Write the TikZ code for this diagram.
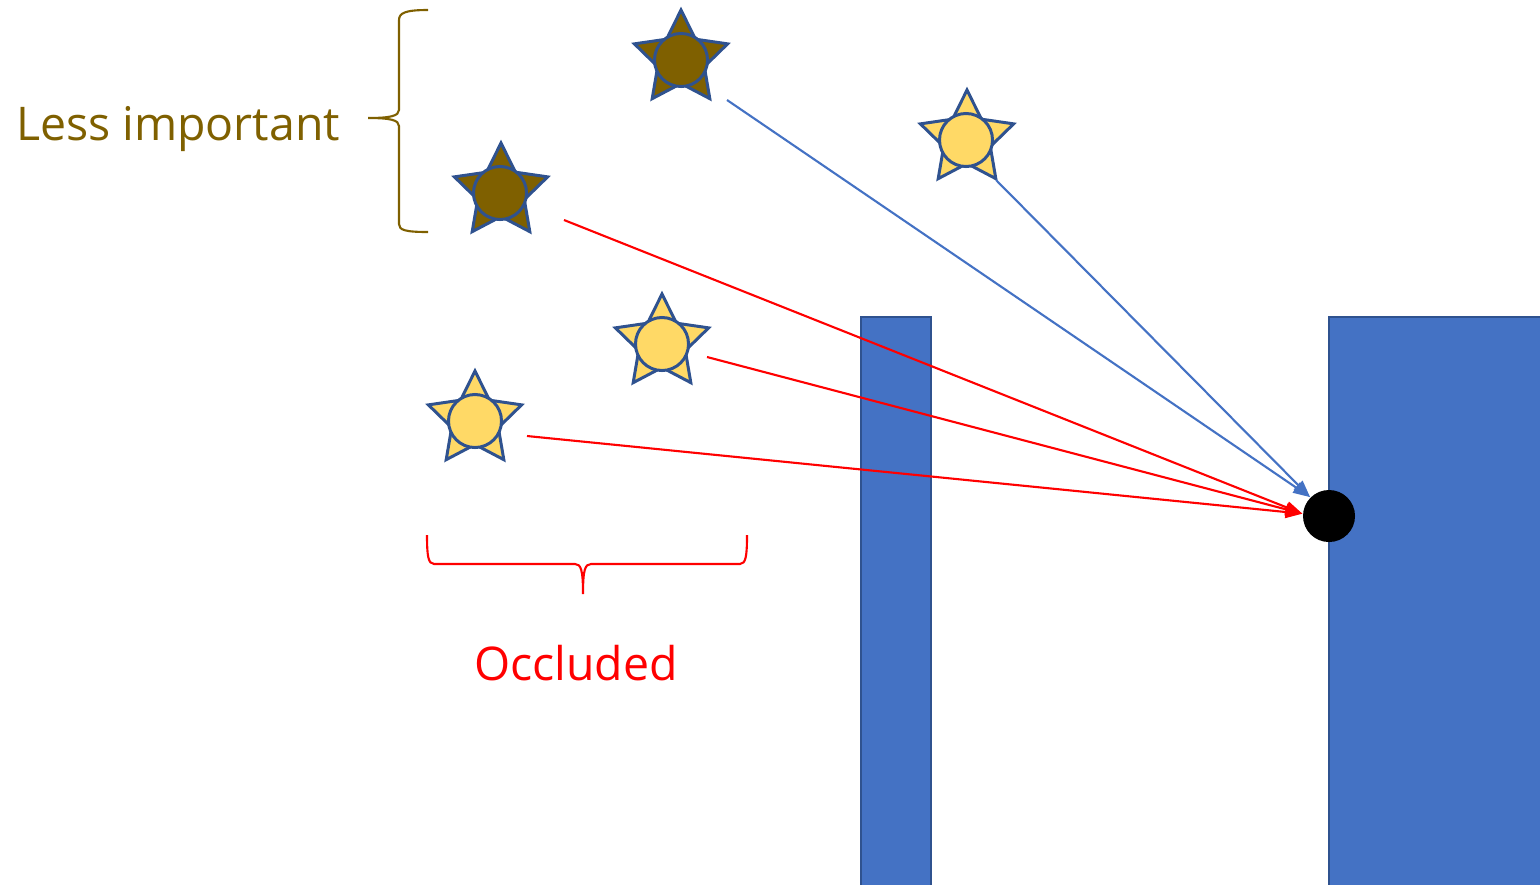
\documentclass[tikz,border=0pt]{standalone}
\usepackage{fontspec}
\setmainfont{Open Sans}
\usepackage{tikz}
\usetikzlibrary{shapes.geometric,arrows.meta}

\definecolor{darkgold}{HTML}{7F6000}
\definecolor{lightgold}{HTML}{FFD966}
\definecolor{edgeblue}{HTML}{2F528F}
\definecolor{wallblue}{HTML}{4472C4}

\begin{document}
\begin{tikzpicture}[
    x=0.01cm, y=-0.01cm,
    lamp/.style={star, star points=5, star point ratio=2.0, draw=edgeblue, line width=0.85pt, minimum size=0.98cm, inner sep=0pt},
    bulb/.style={circle, draw=edgeblue, line width=0.85pt, minimum size=0.53cm, inner sep=0pt},
    wall/.style={draw=edgeblue, fill=wallblue, line width=0.6pt},
    ray/.style={-{Triangle[length=0.17cm,width=0.12cm]}, line width=0.6pt},
    label/.style={anchor=base, font=\fontsize{13.2}{16}\selectfont}
]
\useasboundingbox (0,0) rectangle (1540,884);

% Walls
\draw[wall] (861,317) rectangle (931,890);
\draw[wall] (1329,317) rectangle (1545,890);

% Viewer
\node[circle, fill=black, minimum size=0.52cm, inner sep=0pt] (eye) at (1329,516) {};

% Stars
\node[lamp, fill=darkgold] (s1) at (681,59) {};
\node[bulb, fill=darkgold] (c1) at (681,60) {};
\node[lamp, fill=darkgold] (s2) at (501,192) {};
\node[bulb, fill=darkgold] (c2) at (500,193) {};
\node[lamp, fill=lightgold] (s3) at (967,139) {};
\node[bulb, fill=lightgold] (c3) at (966,140) {};
\node[lamp, fill=lightgold] (s4) at (662,343) {};
\node[bulb, fill=lightgold] (c4) at (662,344) {};
\node[lamp, fill=lightgold] (s5) at (475,420) {};
\node[bulb, fill=lightgold] (c5) at (475,421) {};

% Ray start points
\coordinate (r1) at (727,100);
\coordinate (r2) at (564,220);
\coordinate (r3) at (996,180);
\coordinate (r4) at (707,357);
\coordinate (r5) at (527,436);

% Rays
\draw[ray, wallblue] (r1) -- (eye.135);
\draw[ray, wallblue] (r3) -- (eye.135);
\draw[ray, red] (r2) -- (eye.175);
\draw[ray, red] (r4) -- (eye.175);
\draw[ray, red] (r5) -- (eye.175);

% Braces
\draw[darkgold, line width=0.6pt] (428,10) .. controls (405,10) and (399,13) .. (399,20) -- (399,110)
    .. controls (399,116) and (390,118) .. (368,118)
    .. controls (390,118) and (399,120) .. (399,126) -- (399,224)
    .. controls (399,230) and (405,232) .. (428,232);
\draw[red, line width=0.6pt] (427,535) .. controls (427,555) and (428,564) .. (434,564) -- (575,564)
    .. controls (581,564) and (583,570) .. (583,594)
    .. controls (583,570) and (585,564) .. (591,564) -- (740,564)
    .. controls (746,564) and (747,555) .. (747,535);

% Labels
\node[label, text=darkgold] (lessimp) at (178,140) {Less important};
\node[label, text=red] (occl) at (576,680) {Occluded};
\end{tikzpicture}
\end{document}
